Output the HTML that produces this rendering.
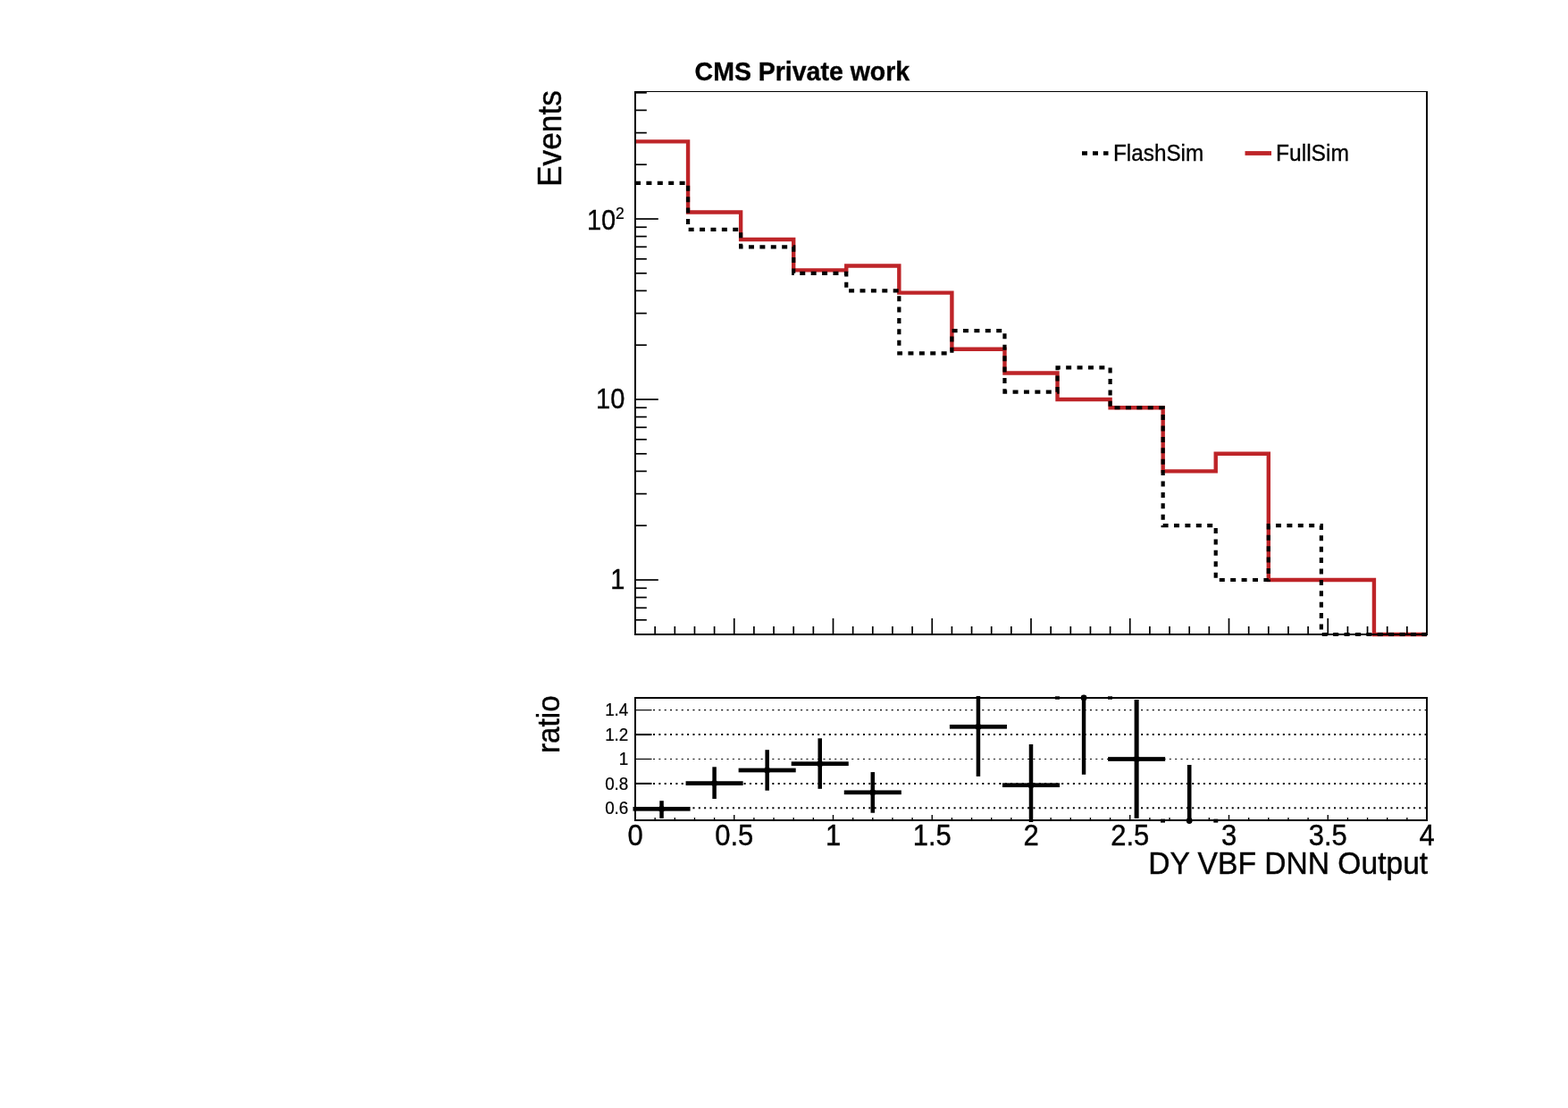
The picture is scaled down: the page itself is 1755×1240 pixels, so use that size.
<!DOCTYPE html>
<html><head><meta charset="utf-8"><title>DY VBF DNN Output</title>
<style>html,body{margin:0;padding:0;background:#fff}svg{display:block}text{font-family:"Liberation Sans",Arial,Helvetica,sans-serif;fill:#000}</style></head><body>
<svg width="1755" height="1240" viewBox="0 0 1755 1240">
<rect width="1755" height="1240" fill="#fff"/>
<g fill="none" stroke-linejoin="miter" stroke-linecap="butt">
<path d="M711.00 158.36 L770.07 158.36 L770.07 237.44 L829.13 237.44 L829.13 267.93 L888.20 267.93 L888.20 302.37 L947.27 302.37 L947.27 297.45 L1006.33 297.45 L1006.33 327.60 L1065.40 327.60 L1065.40 390.69 L1124.47 390.69 L1124.47 417.48 L1183.53 417.48 L1183.53 447.00 L1242.60 447.00 L1242.60 456.24 L1301.67 456.24 L1301.67 527.38 L1360.73 527.38 L1360.73 507.81 L1419.80 507.81 L1419.80 649.00 L1478.87 649.00 L1478.87 649.00 L1537.93 649.00 L1537.93 710.00 L1597.00 710.00" stroke="#be2428" stroke-width="4.4"/>
<path d="M711.00 204.87 L770.07 204.87 L770.07 256.81 L829.13 256.81 L829.13 276.29 L888.20 276.29 L888.20 305.81 L947.27 305.81 L947.27 325.38 L1006.33 325.38 L1006.33 395.43 L1065.40 395.43 L1065.40 370.20 L1124.47 370.20 L1124.47 438.64 L1183.53 438.64 L1183.53 411.43 L1242.60 411.43 L1242.60 456.24 L1301.67 456.24 L1301.67 588.19 L1360.73 588.19 L1360.73 649.00 L1419.80 649.00 L1419.80 588.19 L1478.87 588.19 L1478.87 710.00 L1537.93 710.00 L1537.93 710.00 L1597.00 710.00" stroke="#000" stroke-width="4.2" stroke-dasharray="6 6.4"/>
</g>
<g stroke="#000" fill="none" shape-rendering="crispEdges">
<line x1="711" y1="102" x2="711" y2="711" stroke-width="2"/>
<line x1="1597" y1="102" x2="1597" y2="711" stroke-width="2"/>
<line x1="710" y1="102.5" x2="1598" y2="102.5" stroke-width="1"/>
<line x1="710" y1="710" x2="1598" y2="710" stroke-width="2"/>
</g>
<g stroke="#000" stroke-width="1.7">
<line x1="711" y1="693.81" x2="723.8" y2="693.81"/>
<line x1="711" y1="680.29" x2="723.8" y2="680.29"/>
<line x1="711" y1="668.58" x2="723.8" y2="668.58"/>
<line x1="711" y1="658.24" x2="723.8" y2="658.24"/>
<line x1="711" y1="649.00" x2="736.8" y2="649.00"/>
<line x1="711" y1="588.19" x2="723.8" y2="588.19"/>
<line x1="711" y1="552.62" x2="723.8" y2="552.62"/>
<line x1="711" y1="527.38" x2="723.8" y2="527.38"/>
<line x1="711" y1="507.81" x2="723.8" y2="507.81"/>
<line x1="711" y1="491.81" x2="723.8" y2="491.81"/>
<line x1="711" y1="478.29" x2="723.8" y2="478.29"/>
<line x1="711" y1="466.58" x2="723.8" y2="466.58"/>
<line x1="711" y1="456.24" x2="723.8" y2="456.24"/>
<line x1="711" y1="447.00" x2="736.8" y2="447.00"/>
<line x1="711" y1="386.19" x2="723.8" y2="386.19"/>
<line x1="711" y1="350.62" x2="723.8" y2="350.62"/>
<line x1="711" y1="325.38" x2="723.8" y2="325.38"/>
<line x1="711" y1="305.81" x2="723.8" y2="305.81"/>
<line x1="711" y1="289.81" x2="723.8" y2="289.81"/>
<line x1="711" y1="276.29" x2="723.8" y2="276.29"/>
<line x1="711" y1="264.58" x2="723.8" y2="264.58"/>
<line x1="711" y1="254.24" x2="723.8" y2="254.24"/>
<line x1="711" y1="245.00" x2="736.8" y2="245.00"/>
<line x1="711" y1="184.19" x2="723.8" y2="184.19"/>
<line x1="711" y1="148.62" x2="723.8" y2="148.62"/>
<line x1="711" y1="123.38" x2="723.8" y2="123.38"/>
<line x1="711" y1="103.81" x2="723.8" y2="103.81"/>
<line x1="733.15" y1="710" x2="733.15" y2="701.0"/>
<line x1="755.30" y1="710" x2="755.30" y2="701.0"/>
<line x1="777.45" y1="710" x2="777.45" y2="701.0"/>
<line x1="799.60" y1="710" x2="799.60" y2="701.0"/>
<line x1="821.75" y1="710" x2="821.75" y2="692.0"/>
<line x1="843.90" y1="710" x2="843.90" y2="701.0"/>
<line x1="866.05" y1="710" x2="866.05" y2="701.0"/>
<line x1="888.20" y1="710" x2="888.20" y2="701.0"/>
<line x1="910.35" y1="710" x2="910.35" y2="701.0"/>
<line x1="932.50" y1="710" x2="932.50" y2="692.0"/>
<line x1="954.65" y1="710" x2="954.65" y2="701.0"/>
<line x1="976.80" y1="710" x2="976.80" y2="701.0"/>
<line x1="998.95" y1="710" x2="998.95" y2="701.0"/>
<line x1="1021.10" y1="710" x2="1021.10" y2="701.0"/>
<line x1="1043.25" y1="710" x2="1043.25" y2="692.0"/>
<line x1="1065.40" y1="710" x2="1065.40" y2="701.0"/>
<line x1="1087.55" y1="710" x2="1087.55" y2="701.0"/>
<line x1="1109.70" y1="710" x2="1109.70" y2="701.0"/>
<line x1="1131.85" y1="710" x2="1131.85" y2="701.0"/>
<line x1="1154.00" y1="710" x2="1154.00" y2="692.0"/>
<line x1="1176.15" y1="710" x2="1176.15" y2="701.0"/>
<line x1="1198.30" y1="710" x2="1198.30" y2="701.0"/>
<line x1="1220.45" y1="710" x2="1220.45" y2="701.0"/>
<line x1="1242.60" y1="710" x2="1242.60" y2="701.0"/>
<line x1="1264.75" y1="710" x2="1264.75" y2="692.0"/>
<line x1="1286.90" y1="710" x2="1286.90" y2="701.0"/>
<line x1="1309.05" y1="710" x2="1309.05" y2="701.0"/>
<line x1="1331.20" y1="710" x2="1331.20" y2="701.0"/>
<line x1="1353.35" y1="710" x2="1353.35" y2="701.0"/>
<line x1="1375.50" y1="710" x2="1375.50" y2="692.0"/>
<line x1="1397.65" y1="710" x2="1397.65" y2="701.0"/>
<line x1="1419.80" y1="710" x2="1419.80" y2="701.0"/>
<line x1="1441.95" y1="710" x2="1441.95" y2="701.0"/>
<line x1="1464.10" y1="710" x2="1464.10" y2="701.0"/>
<line x1="1486.25" y1="710" x2="1486.25" y2="692.0"/>
<line x1="1508.40" y1="710" x2="1508.40" y2="701.0"/>
<line x1="1530.55" y1="710" x2="1530.55" y2="701.0"/>
<line x1="1552.70" y1="710" x2="1552.70" y2="701.0"/>
<line x1="1574.85" y1="710" x2="1574.85" y2="701.0"/>
</g>
<text transform="translate(689.20,257.40) scale(0.9461,1)" font-size="30.65" text-anchor="end" stroke="#000" stroke-width="0.38">10</text>
<text transform="translate(699.30,457.40) scale(0.9461,1)" font-size="30.65" text-anchor="end" stroke="#000" stroke-width="0.38">10</text>
<text transform="translate(699.30,659.40) scale(0.9461,1)" font-size="30.65" text-anchor="end" stroke="#000" stroke-width="0.38">1</text>
<text transform="translate(698.80,244.90) scale(0.9461,1)" font-size="18.60" text-anchor="end" stroke="#000" stroke-width="0.23">2</text>
<text transform="translate(777.60,89.80) scale(0.9461,1)" font-size="30.12" text-anchor="start" font-weight="bold" stroke="#000" stroke-width="0.37">CMS Private work</text>
<text transform="translate(628.00,101.10) rotate(-90) scale(0.9461,1)" font-size="37.31" text-anchor="end" stroke="#000" stroke-width="0.46">Events</text>
<text transform="translate(626.00,778.40) rotate(-90) scale(0.9461,1)" font-size="35.09" text-anchor="end" stroke="#000" stroke-width="0.43">ratio</text>
<line x1="1211" y1="171.5" x2="1240.5" y2="171.5" stroke="#000" stroke-width="4.4" stroke-dasharray="6 6"/>
<text transform="translate(1246.00,179.50) scale(0.9756,1)" font-size="24.91" text-anchor="start" stroke="#000" stroke-width="0.32">FlashSim</text>
<line x1="1393.5" y1="171.5" x2="1423" y2="171.5" stroke="#be2428" stroke-width="4.8"/>
<text transform="translate(1428.00,179.50) scale(0.9756,1)" font-size="25.21" text-anchor="start" stroke="#000" stroke-width="0.32">FullSim</text>
<g stroke="#000" stroke-dasharray="2 4.35">
<line x1="731" y1="904.30" x2="1596" y2="904.30" stroke-width="2"/>
<line x1="731" y1="876.90" x2="1596" y2="876.90" stroke-width="2"/>
<line x1="731" y1="849.50" x2="1596" y2="849.50" stroke-width="1.2"/>
<line x1="731" y1="822.10" x2="1596" y2="822.10" stroke-width="2"/>
<line x1="731" y1="794.70" x2="1596" y2="794.70" stroke-width="1.2"/>
</g>
<g stroke="#000">
<line x1="711" y1="904.30" x2="729.5" y2="904.30" stroke-width="2"/>
<line x1="711" y1="876.90" x2="729.5" y2="876.90" stroke-width="2"/>
<line x1="711" y1="849.50" x2="729.5" y2="849.50" stroke-width="1.2"/>
<line x1="711" y1="822.10" x2="729.5" y2="822.10" stroke-width="2"/>
<line x1="711" y1="794.70" x2="729.5" y2="794.70" stroke-width="1.2"/>
<line x1="733.15" y1="918" x2="733.15" y2="915.0" stroke-width="1.4"/>
<line x1="755.30" y1="918" x2="755.30" y2="915.0" stroke-width="1.4"/>
<line x1="777.45" y1="918" x2="777.45" y2="915.0" stroke-width="1.4"/>
<line x1="799.60" y1="918" x2="799.60" y2="915.0" stroke-width="1.4"/>
<line x1="821.75" y1="918" x2="821.75" y2="912.0" stroke-width="1.4"/>
<line x1="843.90" y1="918" x2="843.90" y2="915.0" stroke-width="1.4"/>
<line x1="866.05" y1="918" x2="866.05" y2="915.0" stroke-width="1.4"/>
<line x1="888.20" y1="918" x2="888.20" y2="915.0" stroke-width="1.4"/>
<line x1="910.35" y1="918" x2="910.35" y2="915.0" stroke-width="1.4"/>
<line x1="932.50" y1="918" x2="932.50" y2="912.0" stroke-width="1.4"/>
<line x1="954.65" y1="918" x2="954.65" y2="915.0" stroke-width="1.4"/>
<line x1="976.80" y1="918" x2="976.80" y2="915.0" stroke-width="1.4"/>
<line x1="998.95" y1="918" x2="998.95" y2="915.0" stroke-width="1.4"/>
<line x1="1021.10" y1="918" x2="1021.10" y2="915.0" stroke-width="1.4"/>
<line x1="1043.25" y1="918" x2="1043.25" y2="912.0" stroke-width="1.4"/>
<line x1="1065.40" y1="918" x2="1065.40" y2="915.0" stroke-width="1.4"/>
<line x1="1087.55" y1="918" x2="1087.55" y2="915.0" stroke-width="1.4"/>
<line x1="1109.70" y1="918" x2="1109.70" y2="915.0" stroke-width="1.4"/>
<line x1="1131.85" y1="918" x2="1131.85" y2="915.0" stroke-width="1.4"/>
<line x1="1154.00" y1="918" x2="1154.00" y2="912.0" stroke-width="1.4"/>
<line x1="1176.15" y1="918" x2="1176.15" y2="915.0" stroke-width="1.4"/>
<line x1="1198.30" y1="918" x2="1198.30" y2="915.0" stroke-width="1.4"/>
<line x1="1220.45" y1="918" x2="1220.45" y2="915.0" stroke-width="1.4"/>
<line x1="1242.60" y1="918" x2="1242.60" y2="915.0" stroke-width="1.4"/>
<line x1="1264.75" y1="918" x2="1264.75" y2="912.0" stroke-width="1.4"/>
<line x1="1286.90" y1="918" x2="1286.90" y2="915.0" stroke-width="1.4"/>
<line x1="1309.05" y1="918" x2="1309.05" y2="915.0" stroke-width="1.4"/>
<line x1="1331.20" y1="918" x2="1331.20" y2="915.0" stroke-width="1.4"/>
<line x1="1353.35" y1="918" x2="1353.35" y2="915.0" stroke-width="1.4"/>
<line x1="1375.50" y1="918" x2="1375.50" y2="912.0" stroke-width="1.4"/>
<line x1="1397.65" y1="918" x2="1397.65" y2="915.0" stroke-width="1.4"/>
<line x1="1419.80" y1="918" x2="1419.80" y2="915.0" stroke-width="1.4"/>
<line x1="1441.95" y1="918" x2="1441.95" y2="915.0" stroke-width="1.4"/>
<line x1="1464.10" y1="918" x2="1464.10" y2="915.0" stroke-width="1.4"/>
<line x1="1486.25" y1="918" x2="1486.25" y2="912.0" stroke-width="1.4"/>
<line x1="1508.40" y1="918" x2="1508.40" y2="915.0" stroke-width="1.4"/>
<line x1="1530.55" y1="918" x2="1530.55" y2="915.0" stroke-width="1.4"/>
<line x1="1552.70" y1="918" x2="1552.70" y2="915.0" stroke-width="1.4"/>
<line x1="1574.85" y1="918" x2="1574.85" y2="915.0" stroke-width="1.4"/>
</g>
<g stroke="#000" fill="none" shape-rendering="crispEdges" stroke-width="2">
<rect x="711" y="781" width="886" height="137"/>
</g>
<g fill="#000">
<rect x="708.50" y="902.95" width="64.07" height="4.7"/>
<rect x="738.28" y="896.20" width="4.50" height="19.60"/>
<circle cx="740.53" cy="905.30" r="3.5"/>
<rect x="767.57" y="874.25" width="64.07" height="4.7"/>
<rect x="797.35" y="858.30" width="4.50" height="35.70"/>
<circle cx="799.60" cy="876.60" r="3.5"/>
<rect x="826.63" y="859.65" width="64.07" height="4.7"/>
<rect x="856.42" y="839.20" width="4.50" height="45.50"/>
<circle cx="858.67" cy="862.00" r="3.5"/>
<rect x="885.70" y="852.35" width="64.07" height="4.7"/>
<rect x="915.48" y="826.30" width="4.50" height="56.50"/>
<circle cx="917.73" cy="854.70" r="3.5"/>
<rect x="944.77" y="884.45" width="64.07" height="4.7"/>
<rect x="974.55" y="864.10" width="4.50" height="45.60"/>
<circle cx="976.80" cy="886.80" r="3.5"/>
<rect x="1062.90" y="810.95" width="64.07" height="4.7"/>
<rect x="1092.68" y="779.00" width="4.50" height="89.90"/>
<circle cx="1094.93" cy="813.30" r="3.5"/>
<rect x="1121.97" y="876.35" width="64.07" height="4.7"/>
<rect x="1151.75" y="833.00" width="4.50" height="87.00"/>
<circle cx="1154.00" cy="878.70" r="3.5"/>
<rect x="1240.10" y="847.15" width="64.07" height="4.7"/>
<rect x="1269.63" y="783.00" width="5.00" height="132.80"/>
<circle cx="1272.13" cy="849.50" r="3.5"/>
<rect x="1210.87" y="781" width="4.4" height="85.80"/>
<circle cx="1213.07" cy="781" r="3.4"/>
<rect x="1181" y="779.3" width="5" height="3.4"/><rect x="1240" y="779.3" width="5" height="3.4"/>
<rect x="1328.90" y="856" width="4.6" height="62.00"/>
<circle cx="1331.20" cy="918.5" r="3.4"/>
<rect x="1299" y="916.6" width="5" height="4"/><rect x="1358.3" y="916.6" width="5" height="4"/>
</g>
<text transform="translate(703.30,911.00) scale(0.9709,1)" font-size="19.36" text-anchor="end" stroke="#000" stroke-width="0.24">0.6</text>
<text transform="translate(703.30,883.60) scale(0.9709,1)" font-size="19.36" text-anchor="end" stroke="#000" stroke-width="0.24">0.8</text>
<text transform="translate(703.30,856.20) scale(0.9709,1)" font-size="19.36" text-anchor="end" stroke="#000" stroke-width="0.24">1</text>
<text transform="translate(703.30,828.80) scale(0.9709,1)" font-size="19.36" text-anchor="end" stroke="#000" stroke-width="0.24">1.2</text>
<text transform="translate(703.30,801.40) scale(0.9709,1)" font-size="19.36" text-anchor="end" stroke="#000" stroke-width="0.24">1.4</text>
<text transform="translate(711.00,945.60) scale(0.9569,1)" font-size="32.39" text-anchor="middle" stroke="#000" stroke-width="0.40">0</text>
<text transform="translate(821.75,945.60) scale(0.9569,1)" font-size="32.39" text-anchor="middle" stroke="#000" stroke-width="0.40">0.5</text>
<text transform="translate(932.50,945.60) scale(0.9569,1)" font-size="32.39" text-anchor="middle" stroke="#000" stroke-width="0.40">1</text>
<text transform="translate(1043.25,945.60) scale(0.9569,1)" font-size="32.39" text-anchor="middle" stroke="#000" stroke-width="0.40">1.5</text>
<text transform="translate(1154.00,945.60) scale(0.9569,1)" font-size="32.39" text-anchor="middle" stroke="#000" stroke-width="0.40">2</text>
<text transform="translate(1264.75,945.60) scale(0.9569,1)" font-size="32.39" text-anchor="middle" stroke="#000" stroke-width="0.40">2.5</text>
<text transform="translate(1375.50,945.60) scale(0.9569,1)" font-size="32.39" text-anchor="middle" stroke="#000" stroke-width="0.40">3</text>
<text transform="translate(1486.25,945.60) scale(0.9569,1)" font-size="32.39" text-anchor="middle" stroke="#000" stroke-width="0.40">3.5</text>
<text transform="translate(1597.00,945.60) scale(0.9569,1)" font-size="32.39" text-anchor="middle" stroke="#000" stroke-width="0.40">4</text>
<text transform="translate(1598.20,977.80) scale(0.9461,1)" font-size="35.52" text-anchor="end" stroke="#000" stroke-width="0.44">DY VBF DNN Output</text>
</svg></body></html>
